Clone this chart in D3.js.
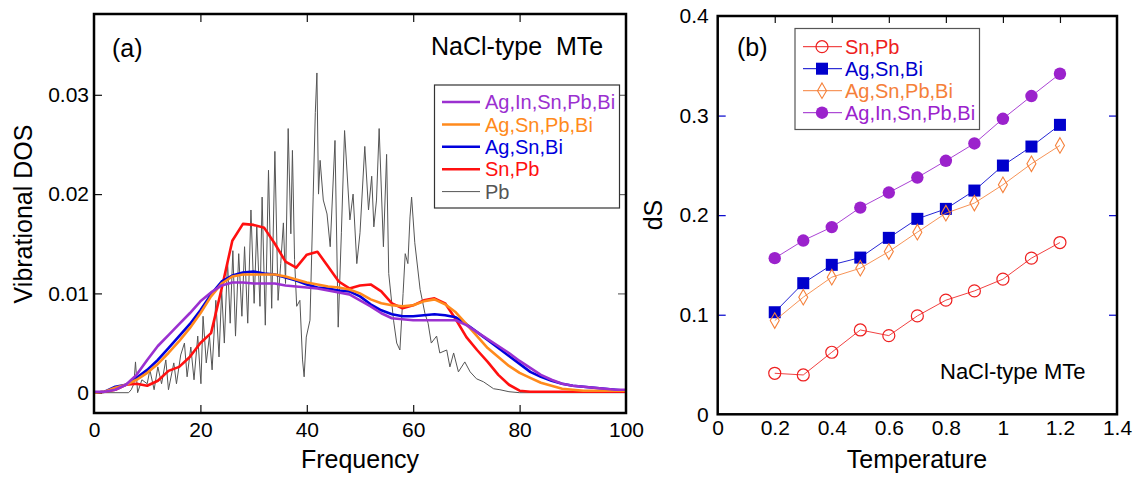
<!DOCTYPE html>
<html>
<head>
<meta charset="utf-8">
<script src="https://d3js.org/d3.v7.min.js"></script>
<style>
  body { margin: 0; background: #fff; }
  svg { display: block; font-family: "Liberation Sans", Arial, sans-serif; }
</style>
</head>
<body>
<svg id="chart" width="1141" height="481"></svg>
<script>
// ---- panel (a): vibrational DOS, sampled every 2 frequency units ----
const freqGrid = d3.range(0, 101, 2);

const dosAgInSnPbBi = [0.0001, 0.0001, 0.0003, 0.0008, 0.0018, 0.0033, 0.0047, 0.0058, 0.0069, 0.0080,
  0.0092, 0.0101, 0.0108, 0.0111, 0.0111, 0.0110, 0.0110, 0.0110, 0.0108, 0.0107,
  0.0106, 0.0105, 0.0103, 0.0101, 0.0099, 0.0093, 0.0087, 0.0080, 0.0075, 0.0074,
  0.0073, 0.0073, 0.0073, 0.0073, 0.0073, 0.0068, 0.0061, 0.0054, 0.0047, 0.0040,
  0.0032, 0.0025, 0.0018, 0.0013, 0.0009, 0.0007, 0.0006, 0.0005, 0.0004, 0.0003, 0.0003];

const dosAgSnPbBi = [0, 0.0001, 0.0005, 0.0008, 0.0013, 0.0020, 0.0029, 0.0040, 0.0052, 0.0065,
  0.0080, 0.0097, 0.0110, 0.0117, 0.0119, 0.0119, 0.0119, 0.0119, 0.0117, 0.0114,
  0.0111, 0.0109, 0.0107, 0.0106, 0.0104, 0.0100, 0.0094, 0.0090, 0.0088, 0.0087,
  0.0088, 0.0092, 0.0094, 0.0089, 0.0081, 0.0069, 0.0057, 0.0045, 0.0036, 0.0027,
  0.0020, 0.0015, 0.0010, 0.0007, 0.0004, 0.0003, 0.0002, 0.0002, 0.0002, 0.0002, 0.0002];

const dosAgSnBi = [0, 0.0001, 0.0006, 0.0008, 0.0015, 0.0023, 0.0033, 0.0045, 0.0057, 0.0069,
  0.0083, 0.0099, 0.0112, 0.0118, 0.0121, 0.0122, 0.0120, 0.0119, 0.0116, 0.0113,
  0.0109, 0.0106, 0.0105, 0.0103, 0.0102, 0.0097, 0.0089, 0.0083, 0.0079, 0.0077,
  0.0077, 0.0078, 0.0079, 0.0078, 0.0076, 0.0069, 0.0061, 0.0053, 0.0045, 0.0037,
  0.0029, 0.0021, 0.0016, 0.0012, 0.0009, 0.0007, 0.0006, 0.0005, 0.0004, 0.0003, 0.0002];

const dosSnPb = [0, 0.0001, 0.0003, 0.0008, 0.0009, 0.0007, 0.0012, 0.0022, 0.0026, 0.0036,
  0.0050, 0.0060, 0.0105, 0.0153, 0.0170, 0.0169, 0.0166, 0.0150, 0.0132, 0.0126,
  0.0139, 0.0142, 0.0127, 0.0112, 0.0105, 0.0108, 0.0109, 0.0102, 0.0090, 0.0085,
  0.0088, 0.0093, 0.0095, 0.0090, 0.0074, 0.0056, 0.0043, 0.0031, 0.0018, 0.0008,
  0.0002, 0.0001, 0.0001, 0.0001, 0.0001, 0.0001, 0.0001, 0.0001, 0.0001, 0.0001, 0.0001];

// Pb is spiky, so it keeps its own frequency points
const pbFreq = [0, 6.5, 7, 7.5, 7.8, 8.2, 9, 10, 10.5, 11.3, 12, 12.7, 13.5, 14, 15, 15.5, 16.3, 17, 17.5,
  18.2, 18.8, 19.5, 20.1, 20.5, 21.1, 21.7, 22.2, 22.9, 23.5, 24, 24.5, 25.1, 25.6, 26.1, 26.6,
  27.2, 27.8, 28.3, 28.9, 29.5, 30.1, 30.6, 31.2, 31.6, 32.2, 32.8, 33.4, 34.0, 34.6, 35.1,
  35.6, 36.0, 36.5, 37.0, 37.3, 37.7, 38.1, 38.7, 39.2, 39.5, 39.9, 40.6, 41.2, 41.6, 41.9,
  42.2, 42.5, 43.1, 43.8, 44.4, 45.3, 45.9, 46.5, 47.1, 48.1, 48.7, 49.4, 50.0, 50.9, 51.6,
  52.2, 52.6, 53.1, 53.6, 54.4, 55.0, 55.4, 56.3, 56.9, 57.5, 58.1, 58.5, 59.0, 59.4, 59.7,
  60.3, 61.3, 62.2, 62.8, 63.4, 64.4, 65.0, 66.3, 66.9, 67.6, 68.5, 69.7, 70.7, 71.9, 73.2,
  75.1, 76.3, 78, 80, 100];
const pbDos = [0, 0, 0.0003, 0.0009, 0.0031, 0, 0.0013, 0.0009, 0.0023, 0.0003, 0.0026, 0.0009, 0.0033, 0.0003, 0.0030, 0.0009, 0.0038, 0.0050, 0.0016,
  0.0046, 0.0013, 0.0057, 0.0009, 0.0077, 0.0030, 0.0057, 0.0023, 0.0093, 0.0036, 0.0103, 0.0050, 0.0133, 0.0070, 0.0143, 0.0057,
  0.0140, 0.0077, 0.0147, 0.0070, 0.0184, 0.0090, 0.0167, 0.0087, 0.0197, 0.0068, 0.0224, 0.0085, 0.0243, 0.0093, 0.0130,
  0.0171, 0.0110, 0.0266, 0.0160, 0.0244, 0.0134, 0.0087, 0.0093, 0.0033, 0.0016, 0.0056, 0.0073, 0.0198, 0.0282, 0.0322,
  0.0200, 0.0234, 0.0194, 0.0180, 0.0147, 0.0254, 0.0066, 0.0161, 0.0264, 0.0174, 0.0200, 0.0130, 0.0161, 0.0248, 0.0184,
  0.0218, 0.0167, 0.0194, 0.0266, 0.0147, 0.0240, 0.0120, 0.0073, 0.0050, 0.0043, 0.0100, 0.0140, 0.0130, 0.0177, 0.0197,
  0.0151, 0.0104, 0.0080, 0.0070, 0.0050, 0.0057, 0.0040, 0.0043, 0.0026, 0.0040, 0.0021, 0.0031, 0.0021, 0.0014, 0.0011,
  0.0004, 0.0003, 0.0001, 0, 0];

const dosNames = ["Ag,In,Sn,Pb,Bi", "Ag,Sn,Pb,Bi", "Ag,Sn,Bi", "Sn,Pb", "Pb"];
const dosColors = ["#9b30d0", "#ff8a1c", "#0000dd", "#ff1010", "#555555"];

// ---- panel (b): dS vs temperature ----
const temps = [0.2, 0.3, 0.4, 0.5, 0.6, 0.7, 0.8, 0.9, 1.0, 1.1, 1.2];
const dsSnPb = [0.0412, 0.0395, 0.0623, 0.0847, 0.0790, 0.0988, 0.1146, 0.1239, 0.1357, 0.1568, 0.1725];
const dsAgSnBi = [0.1025, 0.1317, 0.1501, 0.1574, 0.1772, 0.1963, 0.2063, 0.2247, 0.2498, 0.2689, 0.2907];
const dsAgSnPbBi = [0.0941, 0.1176, 0.1377, 0.1467, 0.1634, 0.1829, 0.2020, 0.2121, 0.2305, 0.2516, 0.2700];
const dsAgInSnPbBi = [0.1568, 0.1745, 0.1880, 0.2076, 0.2227, 0.2378, 0.2546, 0.2720, 0.2968, 0.3196, 0.3420];

const dsNames = ["Sn,Pb", "Ag,Sn,Bi", "Ag,Sn,Pb,Bi", "Ag,In,Sn,Pb,Bi"];
const dsColors = ["#ee2020", "#0000cc", "#f5803a", "#9b22cc"];
const dsMarkers = ["openCircle", "square", "openDiamond", "circle"];

const svg = d3.select("#chart");

// ================= panel (a) =================
const A = { left: 94, right: 626, top: 14, bottom: 413 };
const xA = d3.scaleLinear().domain([0, 100]).range([A.left, A.right]);
const yA = d3.scaleLinear().domain([0, 0.03]).range([392.7, 94.8]);

const gA = svg.append("g");

// ticks (all pointing inward)
gA.append("g")
  .attr("transform", `translate(${A.left},0)`)
  .call(d3.axisLeft(yA).tickValues([0, 0.01, 0.02, 0.03]).tickSize(-8).tickPadding(5)
    .tickFormat(d => d === 0 ? "0" : d3.format(".2f")(d)))
  .call(g => g.select(".domain").remove())
  .call(g => g.selectAll("line").attr("stroke", "#111").attr("stroke-width", 1.2))
  .call(g => g.selectAll("text").attr("font-size", 21).attr("fill", "#000"));

gA.append("g")
  .attr("transform", `translate(${A.right},0)`)
  .call(d3.axisRight(yA).tickValues([0.01, 0.02, 0.03]).tickSize(-8).tickFormat(""))
  .call(g => g.select(".domain").remove())
  .call(g => g.selectAll("line").attr("stroke", "#666").attr("stroke-width", 1.2));

gA.append("g")
  .attr("transform", `translate(0,${A.bottom})`)
  .call(d3.axisBottom(xA).tickValues([0, 20, 40, 60, 80, 100]).tickSize(-8))
  .call(g => g.select(".domain").remove())
  .call(g => g.selectAll("line").attr("stroke", "#111").attr("stroke-width", 1.2)
    .attr("opacity", d => (d === 0 || d === 100) ? 0 : 1))
  .call(g => g.selectAll("text").attr("font-size", 21).attr("fill", "#000").attr("dy", null).attr("y", 24));

gA.append("g")
  .attr("transform", `translate(0,${A.top})`)
  .call(d3.axisTop(xA).tickValues([20, 40, 60, 80]).tickSize(-8).tickFormat(""))
  .call(g => g.select(".domain").remove())
  .call(g => g.selectAll("line").attr("stroke", "#111").attr("stroke-width", 1.2));

const lineA = d3.line().x(d => xA(d[0])).y(d => yA(d[1]));

const clipA = svg.append("clipPath").attr("id", "clipA").append("rect")
  .attr("x", A.left).attr("y", A.top).attr("width", A.right - A.left).attr("height", A.bottom - A.top);

const plotA = gA.append("g").attr("clip-path", "url(#clipA)");

// Pb first (underneath), thin grey
plotA.append("path")
  .datum(pbFreq.map((f, i) => [f, pbDos[i]]))
  .attr("fill", "none").attr("stroke", dosColors[4]).attr("stroke-width", 1)
  .attr("d", lineA);

const smoothSeries = [dosSnPb, dosAgSnBi, dosAgSnPbBi, dosAgInSnPbBi];
const smoothColors = [dosColors[3], dosColors[2], dosColors[1], dosColors[0]];
smoothSeries.forEach((vals, k) => {
  plotA.append("path")
    .datum(freqGrid.map((f, i) => [f, vals[i]]))
    .attr("fill", "none").attr("stroke", smoothColors[k]).attr("stroke-width", 2.6)
    .attr("stroke-linejoin", "round")
    .attr("d", lineA);
});

gA.append("rect")
  .attr("x", A.left).attr("y", A.top).attr("width", A.right - A.left).attr("height", A.bottom - A.top)
  .attr("fill", "none").attr("stroke", "#000").attr("stroke-width", 2.5);

// legend (a)
const legA = gA.append("g");
legA.append("rect").attr("x", 434.5).attr("y", 85).attr("width", 185).attr("height", 123)
  .attr("fill", "#fff").attr("stroke", "#333").attr("stroke-width", 1.2);
dosNames.forEach((name, i) => {
  const y = 102 + i * 22.4;
  legA.append("line").attr("x1", 442).attr("x2", 480).attr("y1", y).attr("y2", y)
    .attr("stroke", dosColors[i]).attr("stroke-width", i === 4 ? 1 : 2.5);
  legA.append("text").attr("x", 485).attr("y", y).attr("dy", "0.36em")
    .attr("font-size", 20).attr("fill", dosColors[i]).text(name);
});

gA.append("text").attr("x", 112).attr("y", 57).attr("font-size", 25).text("(a)");
gA.append("text").attr("x", 431).attr("y", 55).attr("font-size", 25)
  .attr("xml:space", "preserve").style("white-space", "pre").text("NaCl-type  MTe");

gA.append("text").attr("x", 360).attr("y", 468).attr("text-anchor", "middle")
  .attr("font-size", 25).text("Frequency");
gA.append("text").attr("transform", "translate(32,214) rotate(-90)").attr("text-anchor", "middle")
  .attr("font-size", 25).text("Vibrational DOS");

// ================= panel (b) =================
const B = { left: 717.7, right: 1117, top: 16, bottom: 414.3 };
const xB = d3.scaleLinear().domain([0, 1.4]).range([B.left, B.right]);
const yB = d3.scaleLinear().domain([0, 0.4]).range([B.bottom, B.top]);

const gB = svg.append("g");

gB.append("g")
  .attr("transform", `translate(${B.left},0)`)
  .call(d3.axisLeft(yB).tickValues([0, 0.1, 0.2, 0.3, 0.4]).tickSize(-8).tickPadding(9)
    .tickFormat(d => d === 0 ? "0" : d3.format(".1f")(d)))
  .call(g => g.select(".domain").remove())
  .call(g => g.selectAll("line").attr("stroke", "#0000cc").attr("stroke-width", 1.2)
    .attr("opacity", d => (d === 0 || d === 0.4) ? 0 : 1))
  .call(g => g.selectAll("text").attr("font-size", 21).attr("fill", "#000"));

gB.append("g")
  .attr("transform", `translate(${B.right},0)`)
  .call(d3.axisRight(yB).tickValues([0.1, 0.2, 0.3]).tickSize(-8).tickFormat(""))
  .call(g => g.select(".domain").remove())
  .call(g => g.selectAll("line").attr("stroke", "#0000cc").attr("stroke-width", 1.2));

gB.append("g")
  .attr("transform", `translate(0,${B.bottom})`)
  .call(d3.axisBottom(xB).tickValues([0, 0.2, 0.4, 0.6, 0.8, 1, 1.2, 1.4]).tickSize(0)
    .tickFormat(d => d3.format("")(+d.toFixed(1))))
  .call(g => g.select(".domain").remove())
  .call(g => g.selectAll("text").attr("font-size", 21).attr("fill", "#000").attr("dy", null).attr("y", 21));

gB.append("g")
  .attr("transform", `translate(0,${B.top})`)
  .call(d3.axisTop(xB).tickValues([0.2, 0.4, 0.6, 0.8, 1, 1.2]).tickSize(-7).tickFormat(""))
  .call(g => g.select(".domain").remove())
  .call(g => g.selectAll("line").attr("stroke", "#111").attr("stroke-width", 1.2));

const lineB = d3.line().x(d => xB(d[0])).y(d => yB(d[1]));
const dsSeries = [dsSnPb, dsAgSnBi, dsAgSnPbBi, dsAgInSnPbBi];

function drawMarker(g, type, cx, cy, color) {
  if (type === "openCircle") {
    g.append("circle").attr("cx", cx).attr("cy", cy).attr("r", 6)
      .attr("fill", "none").attr("stroke", color).attr("stroke-width", 1.2);
  } else if (type === "circle") {
    g.append("circle").attr("cx", cx).attr("cy", cy).attr("r", 6.2).attr("fill", color);
  } else if (type === "square") {
    g.append("rect").attr("x", cx - 6).attr("y", cy - 6).attr("width", 12).attr("height", 12).attr("fill", color);
  } else if (type === "openDiamond") {
    g.append("path").attr("transform", `translate(${cx},${cy})`)
      .attr("d", d3.symbol(d3.symbolDiamond, 70)())
      .attr("fill", "none").attr("stroke", color).attr("stroke-width", 1.1);
  }
}

dsSeries.forEach((vals, k) => {
  const pts = temps.map((t, i) => [t, vals[i]]);
  const g = gB.append("g");
  g.append("path").datum(pts).attr("fill", "none").attr("stroke", dsColors[k])
    .attr("stroke-width", 1).attr("stroke-opacity", 0.85).attr("d", lineB);
  pts.forEach(p => drawMarker(g, dsMarkers[k], xB(p[0]), yB(p[1]), dsColors[k]));
});

gB.append("rect")
  .attr("x", B.left).attr("y", B.top).attr("width", B.right - B.left).attr("height", B.bottom - B.top)
  .attr("fill", "none").attr("stroke", "#000").attr("stroke-width", 2.5);

// legend (b)
const legB = gB.append("g");
legB.append("rect").attr("x", 795).attr("y", 28.5).attr("width", 184.5).attr("height", 101)
  .attr("fill", "#fff").attr("stroke", "#555").attr("stroke-width", 1.2);
dsNames.forEach((name, i) => {
  const y = 46.7 + i * 22;
  legB.append("line").attr("x1", 803).attr("x2", 842).attr("y1", y).attr("y2", y)
    .attr("stroke", dsColors[i]).attr("stroke-width", 1);
  drawMarker(legB, dsMarkers[i], 822, y, dsColors[i]);
  legB.append("text").attr("x", 845).attr("y", y).attr("dy", "0.36em")
    .attr("font-size", 20).attr("fill", dsColors[i]).text(name);
});

gB.append("text").attr("x", 737).attr("y", 56).attr("font-size", 25).text("(b)");
gB.append("text").attr("x", 940).attr("y", 379).attr("font-size", 22).text("NaCl-type MTe");
gB.append("text").attr("x", 917).attr("y", 468).attr("text-anchor", "middle")
  .attr("font-size", 25).text("Temperature");
gB.append("text").attr("transform", "translate(662,215) rotate(-90)").attr("text-anchor", "middle")
  .attr("font-size", 25).text("dS");
</script>
</body>
</html>
